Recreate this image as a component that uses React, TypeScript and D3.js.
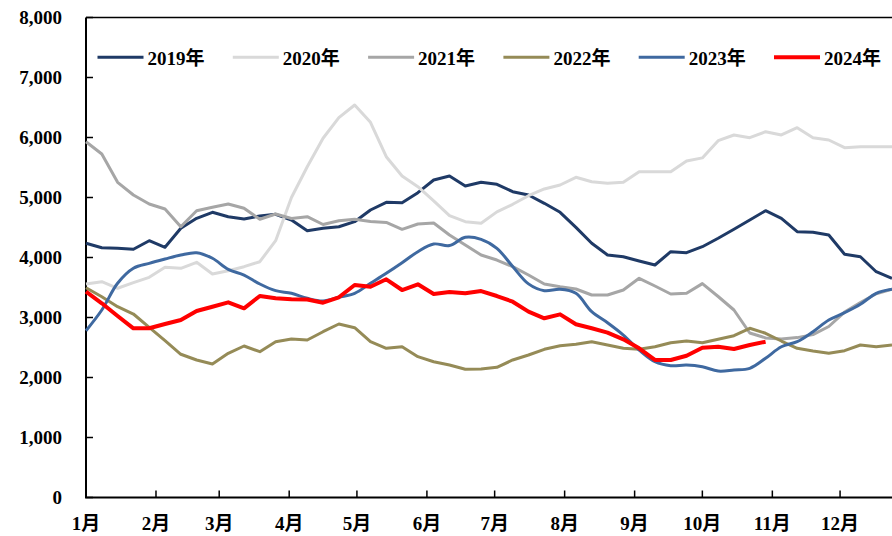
import React from 'react';
import * as d3 from 'd3';

// weekly values, one point every 7 days from Jan 1
const years = ['2019年', '2020年', '2021年', '2022年', '2023年', '2024年'];
const colors = ['#1F3A66', '#D9D9D9', '#A6A6A6', '#958B57', '#3F69A0', '#FF0000'];
const widths = [3, 3, 3, 3, 3, 4];

const s2019 = [4237, 4163, 4153, 4137, 4280, 4170, 4487, 4653, 4753, 4680, 4642, 4692, 4720, 4625, 4447, 4487, 4513, 4597, 4792, 4920, 4913, 5080, 5292, 5358, 5192, 5253, 5220, 5097, 5042, 4903, 4753, 4503, 4237, 4042, 4013, 3942, 3875, 4097, 4080, 4180, 4320, 4470, 4625, 4780, 4653, 4430, 4420, 4375, 4053, 4013, 3763, 3653];
const s2020 = [3558, 3597, 3487, 3580, 3670, 3837, 3820, 3920, 3725, 3780, 3847, 3930, 4280, 5000, 5513, 5987, 6330, 6542, 6253, 5680, 5358, 5180, 4942, 4697, 4597, 4570, 4760, 4887, 5030, 5142, 5208, 5337, 5263, 5237, 5253, 5430, 5430, 5430, 5608, 5660, 5947, 6042, 5997, 6097, 6042, 6163, 5997, 5958, 5830, 5847, 5847, 5847];
const s2021 = [5930, 5725, 5253, 5042, 4892, 4808, 4513, 4780, 4837, 4892, 4820, 4637, 4725, 4650, 4680, 4550, 4613, 4637, 4600, 4585, 4470, 4558, 4575, 4375, 4208, 4042, 3958, 3847, 3708, 3558, 3513, 3475, 3375, 3375, 3458, 3653, 3525, 3392, 3403, 3565, 3350, 3125, 2742, 2660, 2642, 2665, 2715, 2850, 3090, 3250, 3395, 3470];
const s2022 = [3497, 3347, 3180, 3058, 2837, 2613, 2387, 2292, 2225, 2403, 2525, 2430, 2597, 2642, 2625, 2763, 2892, 2830, 2597, 2487, 2513, 2347, 2263, 2208, 2137, 2140, 2170, 2292, 2375, 2470, 2530, 2553, 2597, 2542, 2487, 2470, 2513, 2580, 2608, 2580, 2637, 2697, 2820, 2737, 2608, 2487, 2442, 2403, 2447, 2542, 2513, 2542];
const s2023 = [2780, 3125, 3570, 3820, 3903, 3975, 4042, 4080, 3987, 3803, 3708, 3558, 3447, 3403, 3320, 3275, 3337, 3403, 3570, 3737, 3913, 4097, 4225, 4200, 4337, 4303, 4153, 3850, 3560, 3447, 3470, 3403, 3097, 2913, 2708, 2458, 2263, 2197, 2208, 2180, 2108, 2125, 2153, 2320, 2513, 2597, 2763, 2958, 3080, 3220, 3403, 3470];
const s2024 = [3430, 3237, 3025, 2820, 2820, 2892, 2958, 3108, 3180, 3253, 3153, 3358, 3320, 3303, 3300, 3247, 3337, 3542, 3513, 3637, 3458, 3553, 3392, 3425, 3403, 3440, 3358, 3263, 3097, 2987, 3053, 2887, 2820, 2747, 2637, 2487, 2292, 2292, 2363, 2497, 2513, 2475, 2542, 2597];

const yTicks = [0, 1000, 2000, 3000, 4000, 5000, 6000, 7000, 8000];
const monthLabels = ['1月', '2月', '3月', '4月', '5月', '6月', '7月', '8月', '9月', '10月', '11月', '12月'];

const W = 892;
const H = 536;
const left = 86;
const top = 17.5;
const bottom = 497.5;
const font = '"Liberation Serif", "Times New Roman", "Noto Sans CJK SC", serif';

const start = new Date(2019, 0, 1);
const dayOf = (i: number) => d3.timeDay.offset(start, i * 7);

export default function App() {
  const series = [s2019, s2020, s2021, s2022, s2023, s2024];

  const x = d3.scaleTime()
    .domain([start, dayOf(51)])
    .range([left, W]);
  const y = d3.scaleLinear().domain([0, 8000]).range([bottom, top]);

  const months = d3.timeMonth.range(start, new Date(2020, 0, 1));

  const line = d3.line<number>()
    .x((d, i) => x(dayOf(i)))
    .y((d) => y(d));
  const smooth = d3.line<number>()
    .x((d, i) => x(dayOf(i)))
    .y((d) => y(d))
    .curve(d3.curveCatmullRom.alpha(0.5));

  return (
    <div style={{ position: 'absolute', left: 0, top: 0 }}>
      <svg width={W} height={H} style={{ display: 'block', background: '#fff' }}>
        {/* frame */}
        <line x1={left} x2={W + 2} y1={top} y2={top} stroke="#000" strokeWidth={1.5} />
        <line x1={left} x2={left} y1={top} y2={bottom} stroke="#000" strokeWidth={2} />
        <line x1={left - 1} x2={W + 2} y1={bottom} y2={bottom} stroke="#000" strokeWidth={2} />

        {/* y axis */}
        {yTicks.map((t) => (
          <g key={t}>
            <line x1={left} x2={left + 7} y1={y(t)} y2={y(t)} stroke="#000" strokeWidth={1.5} />
            <text x={62} y={y(t)} dy="0.35em" textAnchor="end" fontFamily={font} fontWeight="bold" fontSize={19} fill="#000">
              {d3.format(',')(t)}
            </text>
          </g>
        ))}

        {/* x axis */}
        {months.map((m, i) => (
          <g key={i}>
            {i > 0 && <line x1={x(m)} x2={x(m)} y1={bottom} y2={bottom - 7} stroke="#000" strokeWidth={1.5} />}
            <text x={x(m)} y={530} textAnchor="middle" fontFamily={font} fontWeight="bold" fontSize={19} fill="#000">
              {monthLabels[i]}
            </text>
          </g>
        ))}

        {/* series */}
        {series.map((s, k) => (
          <path
            key={years[k]}
            d={(k === 4 ? smooth(s) : line(s)) || ''}
            fill="none"
            stroke={colors[k]}
            strokeWidth={widths[k]}
            strokeLinejoin="round"
          />
        ))}

        {/* legend */}
        {years.map((name, k) => {
          const lx = 97.5 + k * 135.3;
          return (
            <g key={name}>
              <line x1={lx} x2={lx + 46} y1={57.3} y2={57.3} stroke={colors[k]} strokeWidth={widths[k]} />
              <text x={lx + 50} y={64.5} fontFamily={font} fontWeight="bold" fontSize={19} fill="#000">
                {name}
              </text>
            </g>
          );
        })}
      </svg>
    </div>
  );
}
